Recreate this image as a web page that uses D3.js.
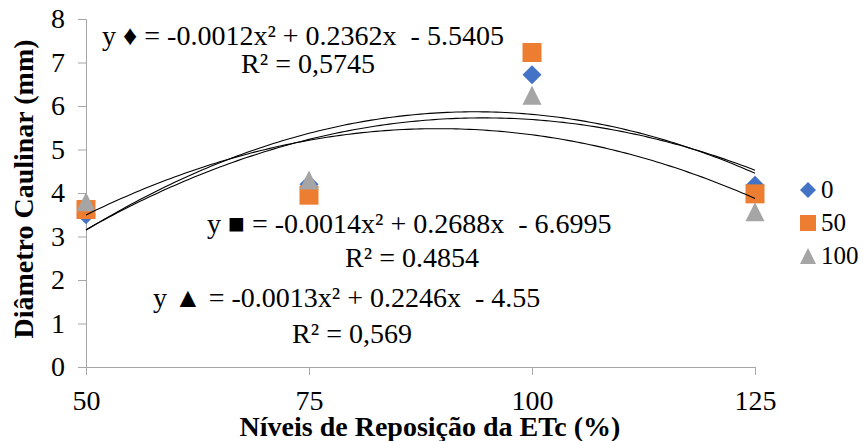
<!DOCTYPE html>
<html>
<head>
<meta charset="utf-8">
<script src="https://cdn.jsdelivr.net/npm/d3@7"></script>
<style>
  body { margin: 0; background: #fff; }
  text { font-family: "Liberation Serif", "Times New Roman", serif; fill: #000; }
</style>
</head>
<body>
<div id="chart"></div>
<script>
// data
var niveis = [50, 75, 100, 125];
var serie0 = [3.5, 4.2, 6.72, 4.18];
var serie50 = [3.62, 3.95, 7.23, 3.98];
var serie100 = [3.8, 4.3, 6.25, 3.57];
var serieNomes = ["0", "50", "100"];
var serieCores = ["#4472c4", "#ed7d31", "#a5a5a5"];
var yTicks = [0, 1, 2, 3, 4, 5, 6, 7, 8];
var xTicks = [50, 75, 100, 125];
var equacoes = ["y \u2666 = -0.0012x\u00b2 + 0.2362x  - 5.5405",
                "y \u25a0 = -0.0014x\u00b2 + 0.2688x  - 6.6995",
                "y \u25b2 = -0.0013x\u00b2 + 0.2246x  - 4.55"];
var r2 = ["R\u00b2 = 0,5745", "R\u00b2 = 0.4854", "R\u00b2 = 0,569"];

var width = 867, height = 441;
var svg = d3.select("#chart").append("svg")
  .attr("width", width).attr("height", height);

var x = d3.scaleLinear().domain([50, 125]).range([86, 755]);
var y = d3.scaleLinear().domain([0, 8]).range([367, 19]);

// marker shapes
function shape(tipo, s) {
  var h = s / 2;
  if (tipo == 0) return "M0," + (-h) + "L" + h + ",0L0," + h + "L" + (-h) + ",0Z";
  if (tipo == 1) return "M" + (-h) + "," + (-h) + "h" + s + "v" + s + "h" + (-s) + "Z";
  return "M0," + (-h) + "L" + h + "," + h + "L" + (-h) + "," + h + "Z";
}

// axes
var axisColor = "#a6a6a6";
var yAxis = svg.append("g")
  .attr("transform", "translate(" + x(50) + ",0)")
  .call(d3.axisLeft(y).tickValues(yTicks).tickSize(8).tickFormat(d3.format("d")));
yAxis.select(".domain").attr("stroke", axisColor);
yAxis.selectAll(".tick line").attr("stroke", axisColor);
yAxis.selectAll(".tick text")
  .attr("font-size", 28).attr("x", -21)
  .style("font-family", "Liberation Serif");

var xAxis = svg.append("g")
  .attr("transform", "translate(0," + y(0) + ")")
  .call(d3.axisBottom(x).tickValues(xTicks).tickSize(8).tickSizeOuter(0));
xAxis.select(".domain").attr("stroke", axisColor).attr("d", "M" + (x(50) - 8) + ",0.5H" + x(125));
xAxis.selectAll(".tick line").attr("stroke", axisColor);
xAxis.selectAll(".tick text")
  .attr("font-size", 28).attr("y", 43).attr("dy", 0)
  .style("font-family", "Liberation Serif");

// axis titles
svg.append("text")
  .attr("transform", "translate(33,189) rotate(-90)")
  .attr("text-anchor", "middle")
  .attr("font-size", 28).attr("font-weight", "bold")
  .text("Di\u00e2metro Caulinar (mm)");

svg.append("text")
  .attr("x", 430).attr("y", 436)
  .attr("text-anchor", "middle")
  .attr("font-size", 28).attr("font-weight", "bold")
  .text("N\u00edveis de Reposi\u00e7\u00e3o da ETc (%)");

// markers
var series = [serie0, serie50, serie100];
series.forEach(function(vals, i) {
  svg.append("g").selectAll("path")
    .data(vals)
    .enter().append("path")
    .attr("d", shape(i, 19))
    .attr("transform", function(d, j) { return "translate(" + x(niveis[j]) + "," + y(d) + ")"; })
    .attr("fill", serieCores[i]);
});

// polynomial trend lines (least squares, order 2)
function ajuste(xs, ys) {
  var n = xs.length, S = [0, 0, 0, 0, 0], T = [0, 0, 0];
  for (var k = 0; k < n; k++) {
    for (var p = 0; p < 5; p++) S[p] += Math.pow(xs[k], p);
    for (var q = 0; q < 3; q++) T[q] += ys[k] * Math.pow(xs[k], q);
  }
  var A = [[S[0], S[1], S[2], T[0]], [S[1], S[2], S[3], T[1]], [S[2], S[3], S[4], T[2]]];
  for (var c = 0; c < 3; c++) {
    for (var r = c + 1; r < 3; r++) {
      var f = A[r][c] / A[c][c];
      for (var m = c; m < 4; m++) A[r][m] -= f * A[c][m];
    }
  }
  var b = [0, 0, 0];
  for (var i = 2; i >= 0; i--) {
    var s = A[i][3];
    for (var m2 = i + 1; m2 < 3; m2++) s -= A[i][m2] * b[m2];
    b[i] = s / A[i][i];
  }
  return function(v) { return b[0] + b[1] * v + b[2] * v * v; };
}

var linha = d3.line().x(function(d) { return x(d[0]); }).y(function(d) { return y(d[1]); });
series.forEach(function(vals) {
  var f = ajuste(niveis, vals);
  var pts = d3.range(50, 125.01, 0.5).map(function(v) { return [v, f(v)]; });
  svg.append("path")
    .attr("d", linha(pts))
    .attr("fill", "none")
    .attr("stroke", "#000")
    .attr("stroke-width", 1.1);
});

// equation labels
var eqPos = [[102, 45], [207, 233], [153, 307]];
var r2Pos = [[308, 73], [412, 267], [352, 343]];
equacoes.forEach(function(t, i) {
  svg.append("text")
    .attr("x", eqPos[i][0]).attr("y", eqPos[i][1])
    .attr("font-size", 28)
    .style("white-space", "pre")
    .text(t);
  svg.append("text")
    .attr("x", r2Pos[i][0]).attr("y", r2Pos[i][1])
    .attr("text-anchor", "middle")
    .attr("font-size", 28)
    .text(r2[i]);
});

// legend
var leg = svg.append("g");
serieNomes.forEach(function(nome, i) {
  var cy = 190 + i * 33;
  leg.append("path")
    .attr("d", shape(i, 16))
    .attr("transform", "translate(808," + cy + ")")
    .attr("fill", serieCores[i]);
  leg.append("text")
    .attr("x", 821).attr("y", cy + 8)
    .attr("font-size", 25)
    .text(nome);
});
</script>
</body>
</html>
